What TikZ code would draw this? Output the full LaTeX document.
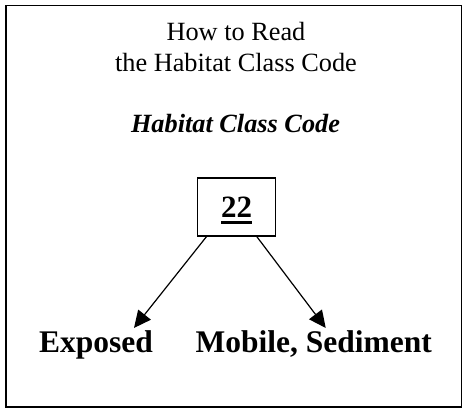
\documentclass[tikz,border=0pt]{standalone}
\usepackage{fontspec}
\setmainfont{Liberation Serif}
\usepackage{tikz}
\usetikzlibrary{arrows.meta,positioning}
\tikzstyle{heading} = [align=center, inner sep=0pt,
    font=\fontsize{26.3}{31}\selectfont]
\tikzstyle{codebox} = [rectangle, draw, line width=1.2pt, minimum width=78pt,
    minimum height=58pt, inner sep=0pt, text height=20pt, text depth=0pt,
    font=\fontsize{31}{36}\selectfont\bfseries]
\tikzstyle{habitat} = [inner sep=0pt, font=\fontsize{31.5}{36}\selectfont\bfseries]
\tikzstyle{pointer} = [-{Triangle[length=17pt,width=16pt]}, line width=1.2pt]

\begin{document}
\begin{tikzpicture}[x=1pt,y=1pt]
  % Frame
  \useasboundingbox (0,0) rectangle (463,-409);
  \draw[line width=1.3pt] (6,-5.5) rectangle (461.5,-407);
  % Place nodes
  \node [heading, anchor=base] (title) at (236,-71.7)
  {How to Read\\the Habitat Class Code};
  \node [heading, anchor=base] (legend) at (235.5,-132.7)
  {\textbf{\textit{Habitat Class Code}}};
  \node [codebox] (code) at (236.5,-207) {\rlap{\rule[-7.4pt]{1em}{3pt}}22};
  \node [habitat, anchor=base] (exposed) at (96,-352.7) {Exposed};
  \node [habitat, base right=42.3pt of exposed] (mobile) {Mobile, Sediment};
  % Draw edges
  \draw [pointer] ([xshift=9.6pt]code.south west) -- ([xshift=38pt,yshift=2.7pt]exposed.north);
  \draw [pointer] ([xshift=-19.3pt]code.south east) -- ([xshift=12pt,yshift=2.7pt]mobile.north);
\end{tikzpicture}
\end{document}
